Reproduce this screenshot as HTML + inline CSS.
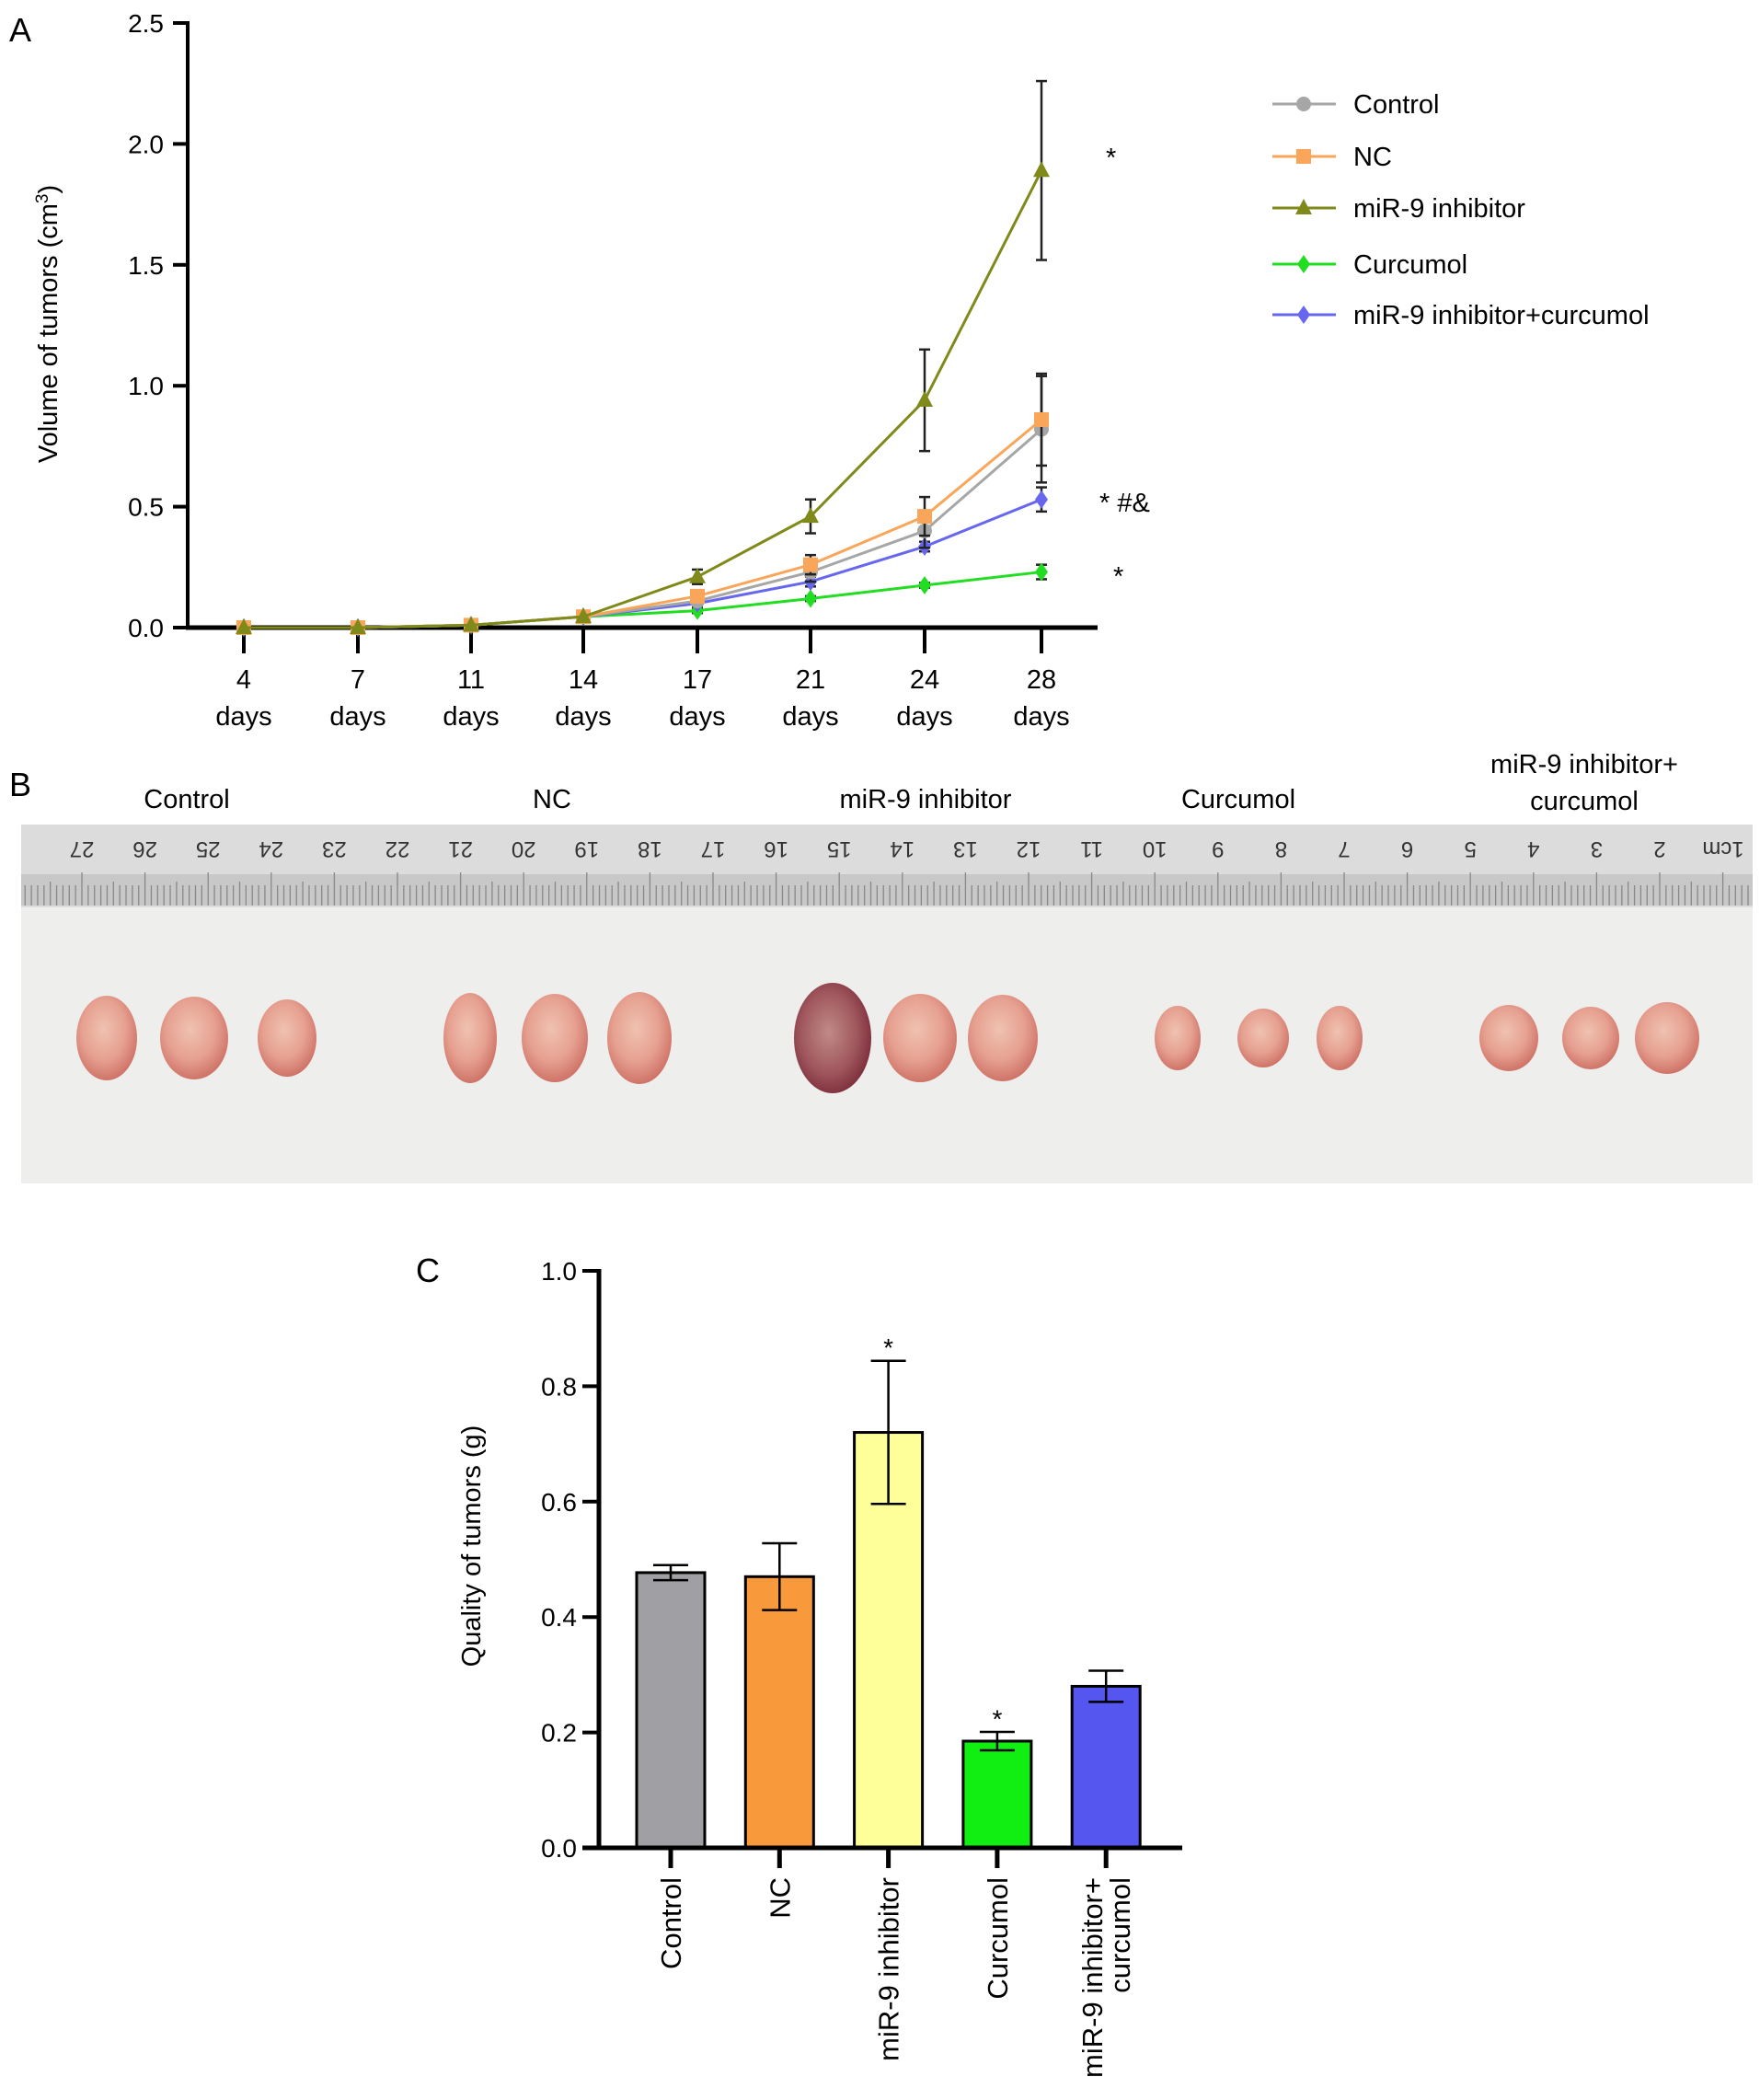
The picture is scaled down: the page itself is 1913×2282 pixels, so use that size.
<!DOCTYPE html>
<html><head><meta charset="utf-8"><style>
html,body{margin:0;padding:0;background:#fff}
svg{display:block}
text{font-family:"Liberation Sans",Arial,sans-serif}
</style></head><body>
<svg id="fig" width="1913" height="2282" viewBox="0 0 1913 2282" xmlns="http://www.w3.org/2000/svg">
<defs>
<radialGradient id="tum" cx="45%" cy="40%" r="60%"><stop offset="0" stop-color="#f0c2b0"/><stop offset="0.6" stop-color="#e6a090"/><stop offset="1" stop-color="#cf7468"/></radialGradient>
<radialGradient id="tumd" cx="45%" cy="45%" r="60%"><stop offset="0" stop-color="#c08a88"/><stop offset="0.6" stop-color="#a0585e"/><stop offset="1" stop-color="#7a2a38"/></radialGradient>
</defs>
<g id="panelA"></g>
<g id="panelB"></g>
<g id="panelC"></g>
</svg>
<script>
// ---- Panel A data ----
const dayLabels = ["4","7","11","14","17","21","24","28"];
const seriesNames = ["Control","NC","miR-9 inhibitor","Curcumol","miR-9 inhibitor+curcumol"];
const controlVals = [0,0,0.01,0.045,0.11,0.23,0.40,0.82];
const ncVals = [0,0,0.01,0.045,0.13,0.26,0.46,0.86];
const mirVals = [0,0,0.01,0.045,0.21,0.46,0.94,1.89];
const curcVals = [0,0,0.01,0.045,0.07,0.12,0.175,0.23];
const comboVals = [0,0,0.01,0.045,0.10,0.19,0.335,0.53];
const controlErr = [0,0,0,0,0.02,0.04,0.07,0.22];
const ncErr = [0,0,0,0,0.02,0.04,0.08,0.19];
const mirErr = [0,0,0,0,0.03,0.07,0.21,0.37];
const curcErr = [0,0,0,0,0.01,0.01,0.01,0.03];
const comboErr = [0,0,0,0,0.01,0.02,0.02,0.05];
const yTicksA = ["0.0","0.5","1.0","1.5","2.0","2.5"];
// ---- Panel C data ----
const barCats = ["Control","NC","miR-9 inhibitor","Curcumol","miR-9 inhibitor+|curcumol"];
const barVals = [0.477,0.47,0.72,0.185,0.28];
const barErr = [0.013,0.058,0.124,0.016,0.027];
const yTicksC = ["0.0","0.2","0.4","0.6","0.8","1.0"];
// ---- Panel B data ----
const rulerNums = [27,26,25,24,23,22,21,20,19,18,17,16,15,14,13,12,11,10,9,8,7,6,5,4,3,2];
const photoGroups = ["Control","NC","miR-9 inhibitor","Curcumol","miR-9 inhibitor+|curcumol"];

const NS="http://www.w3.org/2000/svg";
function mk(tag,attrs,parent,txt){const e=document.createElementNS(NS,tag);for(const k in attrs)e.setAttribute(k,attrs[k]);if(txt!==undefined)e.textContent=txt;parent.appendChild(e);return e;}

// ===== Panel A =====
const A=document.getElementById('panelA');
const ax0=204, axEnd=1193, y0=682, yTop=25;
const xs=[265,389,512,634,758,881,1005,1132];
const yA=v=>y0-(v/2.5)*(y0-yTop);
const xA=i=>xs[i];
let t=mk('text',{x:10,y:45,'font-size':36},A,'A');

let l=mk('line',{x1:ax0,y1:yTop-2,x2:ax0,y2:y0+2,stroke:'#000','stroke-width':4},A);

l=mk('line',{x1:ax0-2,y1:y0,x2:axEnd,y2:y0,stroke:'#000','stroke-width':5},A);

yTicksA.forEach(s=>{const y=yA(parseFloat(s));
 mk('line',{x1:ax0-16,y1:y,x2:ax0,y2:y,stroke:'#000','stroke-width':4},A);
 const tt=mk('text',{x:ax0-26,y:y+10,'font-size':28,'text-anchor':'end'},A,s);
 });
dayLabels.forEach((d,i)=>{const x=xA(i);
 mk('line',{x1:x,y1:y0,x2:x,y2:y0+28,stroke:'#000','stroke-width':4},A);
 const tt=mk('text',{x:x,y:748,'font-size':29,'text-anchor':'middle'},A,d);
 
 const t2=mk('text',{x:x,y:788,'font-size':29,'text-anchor':'middle'},A,'days');
 });
t=mk('text',{x:0,y:0,'font-size':29,'text-anchor':'middle',transform:'translate(62,352) rotate(-90)'},A);

t.innerHTML='Volume of tumors (cm<tspan dy="-10" font-size="19">3</tspan><tspan dy="10">)</tspan>';
const colors=['#a6a6a6','#f9a65a','#7f8a1a','#22dd22','#6666ee'];
const vals=[controlVals,ncVals,mirVals,curcVals,comboVals];
const errs=[controlErr,ncErr,mirErr,curcErr,comboErr];
function marker(k,x,y,g){const c=colors[k];
 if(k===0)return mk('circle',{cx:x,cy:y,r:8,fill:c},g);
 if(k===1)return mk('rect',{x:x-8,y:y-8,width:16,height:16,fill:c},g);
 if(k===2)return mk('polygon',{points:`${x},${y-10} ${x+9},${y+7} ${x-9},${y+7}`,fill:c},g);
 return mk('polygon',{points:`${x},${y-10} ${x+7},${y} ${x},${y+10} ${x-7},${y}`,fill:c},g);}
[3,4,0,1,2].forEach(k=>{
 const g=mk('g',{},A);
 const pts=vals[k].map((v,i)=>xA(i)+','+yA(v)).join(' ');
 const pl=mk('polyline',{points:pts,fill:'none',stroke:colors[k],'stroke-width':3},g);
 
 vals[k].forEach((v,i)=>{const e=errs[k][i];
  if(e>0){const x=xA(i);
   mk('line',{x1:x,y1:yA(v+e),x2:x,y2:yA(v-e),stroke:'#222','stroke-width':2.5},g);
   mk('line',{x1:x-6,y1:yA(v+e),x2:x+6,y2:yA(v+e),stroke:'#222','stroke-width':2.5},g);
   mk('line',{x1:x-6,y1:yA(v-e),x2:x+6,y2:yA(v-e),stroke:'#222','stroke-width':2.5},g);}
  const m=marker(k,xA(i),yA(v),g);
  });
});
const legY=[113,170,226,287,342];
seriesNames.forEach((n,k)=>{const g=mk('g',{},A);
 
 mk('line',{x1:1383,y1:legY[k],x2:1452,y2:legY[k],stroke:colors[k],'stroke-width':3},g);
 marker(k,1417,legY[k],g);
 mk('text',{x:1471,y:legY[k]+10,'font-size':29},g,n);});
[[1202,181,'*'],[1195,556,'* #&'],[1210,636,'*']].forEach(a=>{const s=mk('text',{x:a[0],y:a[1],'font-size':29},A,a[2]);
 });

// ===== Panel B =====
const B=document.getElementById('panelB');
t=mk('text',{x:10,y:865,'font-size':36},B,'B');

const gx=[203,600,1006,1346,1722];
photoGroups.forEach((n,i)=>{const parts=n.split('|');
 const tt=mk('text',{x:gx[i],y:parts.length>1?840:878,'font-size':29,'text-anchor':'middle'},B);
 
 parts.forEach((p,j)=>mk('tspan',{x:gx[i],dy:j?40:0},tt,p));});
let r=mk('rect',{x:23,y:896,width:1882,height:390,fill:'#eeeeed'},B);

r=mk('rect',{x:23,y:896,width:1882,height:90,fill:'#dcdcdc'},B);

mk('rect',{x:23,y:950,width:1882,height:34,fill:'#c8c8c8'},B);
const cm=68.6, x27=89;
for(let mm=-10;mm<=275;mm++){const x=x27+mm*cm/10; if(x<23||x>1905)continue;
 const h=(mm%10===0)?36:(mm%5===0?26:22);
 mk('line',{x1:x,y1:984-h,x2:x,y2:984,stroke:'#888','stroke-width':1.3},B);}
rulerNums.forEach(n=>{const x=x27+(27-n)*cm;
 const tt=mk('text',{x:0,y:0,'font-size':24,'text-anchor':'middle',fill:'#333',transform:`translate(${x},915) rotate(180)`},B,String(n));
 });
mk('text',{x:0,y:0,'font-size':24,'text-anchor':'middle',fill:'#333',transform:`translate(1873,915) rotate(180)`},B,'1cm');
const tumX=[116,211,312,511,603,695,905,1000,1090,1280,1373,1456,1640,1729,1812];
const tumW=[66,74,64,58,72,70,84,80,76,50,56,50,64,62,70];
const tumH=[92,90,84,98,96,100,120,96,94,70,64,70,72,68,78];
tumX.forEach((x,i)=>{const e=mk('ellipse',{cx:x,cy:1128,rx:tumW[i]/2,ry:tumH[i]/2,fill:i===6?'url(#tumd)':'url(#tum)'},B);
 });

// ===== Panel C =====
const C=document.getElementById('panelC');
const cx0=651, cxEnd=1285, cy0=2008, cyTop=1381;
const yC=v=>cy0-v*(cy0-cyTop);
const xC=i=>729+i*118.3;
t=mk('text',{x:452,y:1393,'font-size':36},C,'C');

yTicksC.forEach(s=>{const y=yC(parseFloat(s));
 mk('line',{x1:cx0-18,y1:y,x2:cx0,y2:y,stroke:'#000','stroke-width':4},C);
 const tt=mk('text',{x:cx0-24,y:y+10,'font-size':28,'text-anchor':'end'},C,s);
 });
t=mk('text',{x:0,y:0,'font-size':29,'text-anchor':'middle',transform:'translate(522,1680) rotate(-90)'},C,'Quality of tumors (g)');

const barColors=['#a0a0a4','#f89a3c','#ffff99','#11ee11','#5555f0'];
barVals.forEach((v,i)=>{const x=xC(i);
 const b=mk('rect',{x:x-37,y:yC(v),width:74,height:cy0-yC(v),fill:barColors[i],stroke:'#000','stroke-width':3},C);
 
 const e=barErr[i];
 mk('line',{x1:x,y1:yC(v+e),x2:x,y2:yC(v-e),stroke:'#000','stroke-width':2.5},C);
 mk('line',{x1:x-19,y1:yC(v+e),x2:x+19,y2:yC(v+e),stroke:'#000','stroke-width':2.5},C);
 mk('line',{x1:x-19,y1:yC(v-e),x2:x+19,y2:yC(v-e),stroke:'#000','stroke-width':2.5},C);
 mk('line',{x1:x,y1:cy0,x2:x,y2:cy0+22,stroke:'#000','stroke-width':5},C);
 const parts=barCats[i].split('|');
 parts.forEach((p,j)=>{const dx=parts.length>1?(j?15:-15):0;
  const tt=mk('text',{x:0,y:0,'font-size':31,'text-anchor':'end',transform:`translate(${x+11+dx},2040) rotate(-90)`},C,p);
  });
});
[[2,0.845],[3,0.202]].forEach(a=>{const s=mk('text',{x:xC(a[0]),y:yC(a[1])-4,'font-size':28,'text-anchor':'middle'},C,'*');
 });
l=mk('line',{x1:cx0,y1:cyTop-2,x2:cx0,y2:cy0+2,stroke:'#000','stroke-width':5},C);

l=mk('line',{x1:cx0-18,y1:cy0,x2:cxEnd,y2:cy0,stroke:'#000','stroke-width':5},C);

</script>
</body></html>
